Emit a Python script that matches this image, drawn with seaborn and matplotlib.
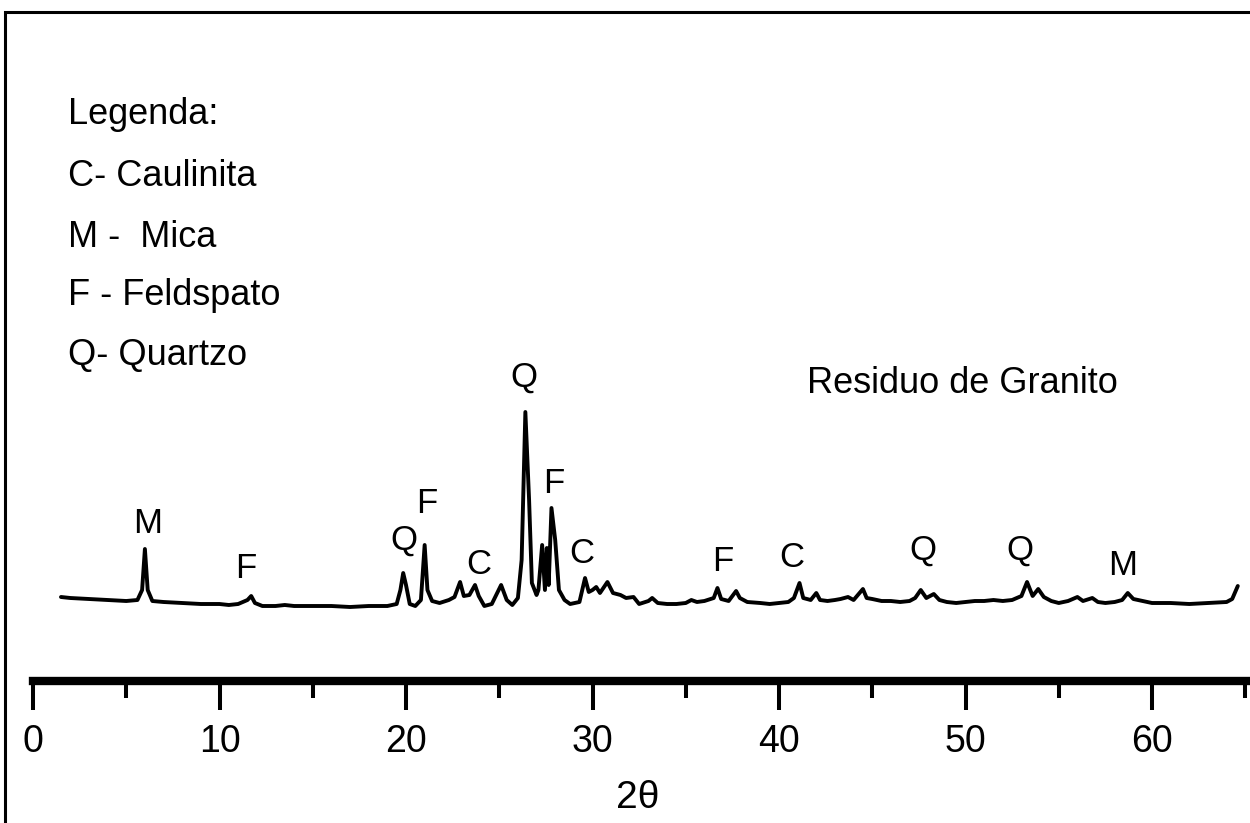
import numpy as np
import pandas as pd
import matplotlib
matplotlib.use("Agg")
import matplotlib.pyplot as plt
from matplotlib.patches import Rectangle
from matplotlib.ticker import MultipleLocator
import seaborn as sns

# ---- data (2theta in degrees, intensity in a.u.) ----
two_theta = [1.5, 2.0, 3.0, 4.0, 5.0, 5.6, 5.85, 6.0, 6.15, 6.4, 7.0, 8.0, 9.0, 10.0,
             10.5, 11.0, 11.5, 11.7, 11.9, 12.3, 13.0, 13.5, 14.0, 15.0, 16.0, 17.0,
             18.0, 19.0, 19.5, 19.7, 19.85, 20.0, 20.2, 20.5, 20.8, 21.0, 21.15, 21.4,
             21.8, 22.3, 22.6, 22.9, 23.1, 23.4, 23.7, 23.9, 24.2, 24.6, 25.1, 25.4,
             25.7, 26.0, 26.2, 26.4, 26.6, 26.75, 27.0, 27.1, 27.3, 27.45, 27.55, 27.65,
             27.8, 28.0, 28.2, 28.5, 28.8, 29.3, 29.6, 29.8, 30.0, 30.2, 30.4, 30.8,
             31.1, 31.5, 31.8, 32.2, 32.5, 33.0, 33.2, 33.5, 34.0, 34.5, 35.0, 35.3,
             35.6, 36.0, 36.5, 36.7, 36.9, 37.3, 37.7, 37.9, 38.3, 39.0, 39.5, 40.0,
             40.5, 40.8, 41.1, 41.3, 41.7, 42.0, 42.2, 42.6, 43.0, 43.3, 43.7, 44.0,
             44.5, 44.7, 45.0, 45.5, 46.0, 46.5, 47.0, 47.3, 47.6, 47.9, 48.3, 48.6,
             49.0, 49.5, 50.0, 50.5, 51.0, 51.5, 52.0, 52.5, 53.0, 53.3, 53.6, 53.9,
             54.2, 54.6, 55.0, 55.5, 56.0, 56.3, 56.8, 57.1, 57.5, 58.0, 58.4, 58.7,
             59.0, 59.5, 60.0, 61.0, 62.0, 63.0, 64.0, 64.3, 64.6]
intensity = [23, 22, 21, 20, 19, 20, 30, 71, 30, 19, 18, 17, 16, 16,
             15, 16, 20, 24, 17, 14, 14, 15, 14, 14, 14, 13,
             14, 14, 16, 30, 47, 35, 16, 14, 20, 75, 30, 19,
             17, 20, 23, 38, 24, 25, 35, 24, 14, 16, 35, 20,
             15, 22, 60, 208, 120, 37, 25, 30, 75, 30, 72, 35,
             112, 80, 30, 20, 16, 18, 42, 28, 30, 33, 27, 38,
             27, 25, 22, 23, 16, 19, 22, 17, 16, 16, 17, 20,
             18, 19, 22, 32, 21, 19, 29, 22, 18, 17, 16, 17,
             18, 22, 37, 22, 20, 27, 20, 19, 20, 21, 23, 20,
             31, 22, 21, 19, 19, 18, 19, 22, 30, 22, 26, 20,
             18, 17, 18, 19, 19, 20, 19, 20, 24, 38, 24, 31,
             23, 19, 17, 19, 23, 19, 22, 18, 17, 18, 20, 27,
             21, 19, 17, 17, 16, 17, 18, 21, 34]

peak_labels = ["M", "F", "Q", "F", "C", "Q", "F", "C", "F", "C", "Q", "Q", "M"]
peak_label_x = [6.17, 11.4, 19.9, 21.1, 23.9, 26.3, 27.9, 29.4, 37.0, 40.7, 47.7, 52.9, 58.4]
peak_label_y = [87, 42, 70, 107, 46, 233, 127, 57, 49, 53, 60, 60, 45]

legend_lines = ["Legenda:", "C- Caulinita", "M -  Mica", "F - Feldspato", "Q- Quartzo"]
sample_name = "Residuo de Granito"
x_ticks = [0, 10, 20, 30, 40, 50, 60]
x_label = "2θ"

df = pd.DataFrame({"two_theta": two_theta, "intensity": intensity})

# ---- styling ----
sns.set_theme(style="white")
plt.rcParams["font.family"] = ["Liberation Sans", "DejaVu Sans"]
plt.rcParams["text.color"] = "black"
plt.rcParams["xtick.color"] = "black"
plt.rcParams["xtick.labelcolor"] = "black"
plt.rcParams["axes.labelcolor"] = "black"

W, H = 1250, 823
fig = plt.figure(figsize=(W / 100, H / 100), dpi=100)
ax = fig.add_axes([0, 0, 1, 1])
ax.set_facecolor("white")

sns.lineplot(data=df, x="two_theta", y="intensity", color="black",
             linewidth=2.8, estimator=None, ax=ax)

x0_px, px_per_deg = 33, 18.65
ax.set_xlim((0 - x0_px) / px_per_deg, (W - x0_px) / px_per_deg)
ax.set_ylim(620 - H, 620)

for s in ["left", "right", "top"]:
    ax.spines[s].set_visible(False)
ax.spines["bottom"].set_position(("data", 620 - 681))
ax.spines["bottom"].set_bounds(0.0, 66)
ax.spines["bottom"].set_linewidth(6)
ax.spines["bottom"].set_color("black")

ax.set_yticks([])
ax.set_xticks(x_ticks)
ax.xaxis.set_minor_locator(MultipleLocator(5))
ax.tick_params(axis="x", which="major", direction="out", length=21, width=2.9,
               color="black", labelcolor="black", labelsize=27, pad=10, bottom=True)
ax.tick_params(axis="x", which="minor", direction="out", length=12, width=2.9,
               color="black", bottom=True)
ax.set_xlabel(x_label, fontsize=28, color="black")
ax.xaxis.set_label_coords(638 / W, 1 - 780 / H)
ax.xaxis.label.set_va("top")
ax.set_ylabel("")

# peak labels
for lab, px, py in zip(peak_labels, peak_label_x, peak_label_y):
    ax.text(px, py, lab, fontsize=25, ha="center", va="baseline", color="black")

# legend text
for i, line in enumerate(legend_lines):
    yb = [124, 186, 247, 305, 365][i]
    ax.text(68 / W, 1 - yb / H, line, transform=ax.transAxes, fontsize=26,
            ha="left", va="baseline", color="black")

ax.text(807 / W, 1 - 393 / H, sample_name, transform=ax.transAxes, fontsize=26,
        ha="left", va="baseline", color="black")

# outer frame (partly cut off at right and bottom)
frame = Rectangle((4.5 / W, -0.2), 1.5, 1.2 - 12 / H, transform=fig.transFigure,
                  fill=False, edgecolor="black", linewidth=2.2, clip_on=False)
fig.patches.append(frame)

fig.savefig("out.png", dpi=100, facecolor="white")
